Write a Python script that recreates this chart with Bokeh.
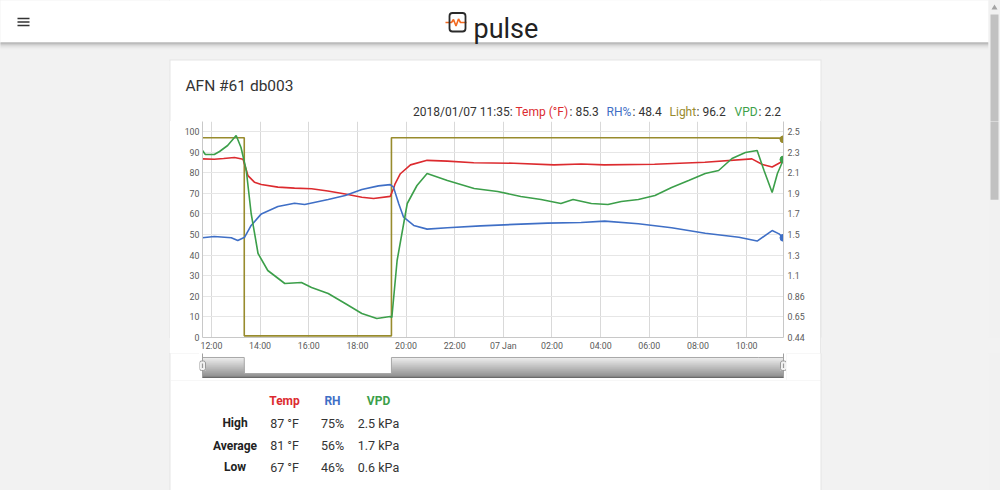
import numpy as np
import pandas as pd
from bokeh.plotting import figure
from bokeh.models import Range1d, LinearAxis, FixedTicker, BoxAnnotation, Label
from bokeh.layouts import column, row
from bokeh.embed import file_html
from bokeh.resources import INLINE

FONT = "Roboto"
BG = "#f2f2f2"
RED = "#dc2b2f"
BLUE = "#3f6fc6"
GREEN = "#3c9f4a"
OLIVE = "#988b2d"

# ---------------- data ----------------
x_start = "2018-01-06 11:38"
x_end = "2018-01-07 11:31"

temp_time = ["2018-01-06 11:38", "2018-01-06 12:07", "2018-01-06 12:30", "2018-01-06 12:57",
             "2018-01-06 13:18", "2018-01-06 13:30", "2018-01-06 13:46", "2018-01-06 14:03",
             "2018-01-06 14:44", "2018-01-06 15:25", "2018-01-06 16:07", "2018-01-06 16:47",
             "2018-01-06 17:30", "2018-01-06 18:11", "2018-01-06 18:40", "2018-01-06 19:21",
             "2018-01-06 19:29", "2018-01-06 19:33", "2018-01-06 19:46", "2018-01-06 20:11",
             "2018-01-06 20:52", "2018-01-06 21:42", "2018-01-06 22:47", "2018-01-07 00:26",
             "2018-01-07 02:05", "2018-01-07 03:12", "2018-01-07 04:09", "2018-01-07 06:13",
             "2018-01-07 08:17", "2018-01-07 10:13", "2018-01-07 10:39", "2018-01-07 11:03",
             "2018-01-07 11:31"]
temp_f = [86.7, 86.5, 86.9, 87.4,
          86.5, 78.6, 75.4, 74.3,
          73.0, 72.5, 72.2, 71.1,
          69.7, 68.1, 67.5, 68.5,
          72.2, 74.6, 79.5, 83.8,
          86.0, 85.6, 84.8, 84.6,
          83.8, 84.2, 83.8, 84.1,
          85.1, 86.7, 84.0, 82.8,
          85.8]

rh_time = ["2018-01-06 11:38", "2018-01-06 12:07", "2018-01-06 12:49", "2018-01-06 13:05",
           "2018-01-06 13:22", "2018-01-06 13:38", "2018-01-06 14:03", "2018-01-06 14:44",
           "2018-01-06 15:25", "2018-01-06 15:50", "2018-01-06 16:48", "2018-01-06 17:30",
           "2018-01-06 18:11", "2018-01-06 18:52", "2018-01-06 19:21", "2018-01-06 19:29",
           "2018-01-06 19:42", "2018-01-06 19:54", "2018-01-06 20:19", "2018-01-06 20:52",
           "2018-01-06 21:42", "2018-01-06 23:04", "2018-01-07 00:27", "2018-01-07 01:49",
           "2018-01-07 03:12", "2018-01-07 04:10", "2018-01-07 05:33", "2018-01-07 06:55",
           "2018-01-07 08:18", "2018-01-07 09:41", "2018-01-07 10:26", "2018-01-07 11:03",
           "2018-01-07 11:20", "2018-01-07 11:31"]
rh_pct = [48.4, 49.0, 48.4, 47.1,
          48.7, 54.4, 60.0, 63.6,
          65.2, 64.6, 67.0, 68.9,
          71.8, 73.6, 74.2, 73.0,
          64.9, 58.4, 54.4, 52.6,
          53.3, 54.2, 54.9, 55.5,
          55.8, 56.5, 55.2, 53.3,
          50.6, 48.7, 46.8, 51.9,
          50.3, 48.4]

vpd_time = ["2018-01-06 11:38", "2018-01-06 11:45", "2018-01-06 12:07", "2018-01-06 12:20",
            "2018-01-06 12:40", "2018-01-06 13:01", "2018-01-06 13:13", "2018-01-06 13:26",
            "2018-01-06 13:38", "2018-01-06 13:55", "2018-01-06 14:19", "2018-01-06 15:01",
            "2018-01-06 15:42", "2018-01-06 16:07", "2018-01-06 16:48", "2018-01-06 17:30",
            "2018-01-06 18:11", "2018-01-06 18:48", "2018-01-06 19:21", "2018-01-06 19:25",
            "2018-01-06 19:38", "2018-01-06 20:03", "2018-01-06 20:27", "2018-01-06 20:52",
            "2018-01-06 21:42", "2018-01-06 22:48", "2018-01-06 23:46", "2018-01-07 00:43",
            "2018-01-07 01:33", "2018-01-07 02:22", "2018-01-07 02:52", "2018-01-07 03:37",
            "2018-01-07 04:18", "2018-01-07 04:51", "2018-01-07 05:33", "2018-01-07 06:14",
            "2018-01-07 06:55", "2018-01-07 07:37", "2018-01-07 08:18", "2018-01-07 08:51",
            "2018-01-07 09:24", "2018-01-07 09:57", "2018-01-07 10:26", "2018-01-07 10:43",
            "2018-01-07 11:03", "2018-01-07 11:16", "2018-01-07 11:31"]
vpd_kpa = [2.31, 2.27, 2.27, 2.30,
           2.36, 2.46, 2.34, 2.11,
           1.68, 1.28, 1.11, 0.98,
           0.99, 0.94, 0.88, 0.78,
           0.68, 0.63, 0.65, 0.64,
           1.21, 1.78, 1.96, 2.08,
           2.01, 1.93, 1.90, 1.85,
           1.82, 1.78, 1.82, 1.78,
           1.77, 1.80, 1.82, 1.86,
           1.94, 2.01, 2.08, 2.11,
           2.23, 2.29, 2.31, 2.11,
           1.89, 2.08, 2.22]

light_time = ["2018-01-06 11:38", "2018-01-06 13:21", "2018-01-06 19:24",
              "2018-01-07 10:30", "2018-01-07 11:31"]
light_val = [97.0, 0.8, 97.0, 96.8, 96.2]

x_tick_times = ["2018-01-06 12:00", "2018-01-06 14:00", "2018-01-06 16:00", "2018-01-06 18:00",
                "2018-01-06 20:00", "2018-01-06 22:00", "2018-01-07 00:00", "2018-01-07 02:00",
                "2018-01-07 04:00", "2018-01-07 06:00", "2018-01-07 08:00", "2018-01-07 10:00"]
x_tick_labels = ["12:00", "14:00", "16:00", "18:00", "20:00", "22:00", "07 Jan",
                 "02:00", "04:00", "06:00", "08:00", "10:00"]
left_ticks = [0, 10, 20, 30, 40, 50, 60, 70, 80, 90, 100]
vpd_ticks = [0.44, 0.646, 0.852, 1.058, 1.264, 1.47, 1.676, 1.882, 2.088, 2.294, 2.5]
vpd_tick_labels = ["0.44", "0.65", "0.86", "1.1", "1.3", "1.5", "1.7", "1.9", "2.1", "2.3", "2.5"]

title_text = "AFN #61 db003"
legend_stamp = "2018/01/07 11:35:"
legend_names = ["Temp (°F)", "RH%", "Light", "VPD"]
legend_values = [": 85.3", ": 48.4", ": 96.2", ": 2.2"]
table_cols = ["Temp", "RH", "VPD"]
table_rows = ["High", "Average", "Low"]
table_vals = [["87 °F", "75%", "2.5 kPa"],
              ["81 °F", "56%", "1.7 kPa"],
              ["67 °F", "46%", "0.6 kPa"]]


def ms(s):
    return int(pd.Timestamp(s).value // 10**6)


t_temp = pd.to_datetime(temp_time)
t_rh = pd.to_datetime(rh_time)
t_vpd = pd.to_datetime(vpd_time)
t_light = pd.to_datetime(light_time)

# page background pattern, anchored to the viewport so every element shares it
PATTERN = {"background-color": BG,
           "background-image": ("linear-gradient(to right, #f2f2f2 0px, #f2f2f2 169px, "
                                "#e4e4e4 169px, #e4e4e4 170px, #ffffff 170px, #ffffff 820px, "
                                "#e4e4e4 820px, #e4e4e4 821px, #f2f2f2 821px, #f2f2f2 988px, "
                                "#f1f1f1 988px, #f1f1f1 1000px)"),
           "background-attachment": "fixed"}
COMMON = dict(output_backend="svg", toolbar_location=None, styles=PATTERN)
EXT = 3  # background strips run past their canvas edges so no seam is drawn


def canvas(w, h, x0, y0, fill=BG):
    """A plain drawing surface whose data coordinates equal page pixels."""
    f = figure(width=w, height=h, x_range=Range1d(x0, x0 + w), y_range=Range1d(y0 + h, y0),
               x_axis_location=None, y_axis_location=None, min_border_left=0,
               min_border_right=0, min_border_top=0, min_border_bottom=0,
               background_fill_color=fill, border_fill_color=fill,
               outline_line_color=None, **COMMON)
    f.grid.visible = False
    return f


def rect(f, l, r, t, b, color, **kw):
    f.quad(left=[l], right=[r], top=[t], bottom=[b], fill_color=color,
           line_color=None, **kw)


def text(f, x, y, s, size, color, align="left", bold=False, baseline="middle", **kw):
    f.add_layout(Label(x=x, y=y, text=s, text_font=FONT, text_font_size=f"{size}px",
                       text_color=color, text_align=align, text_baseline=baseline,
                       text_font_style="bold" if bold else "normal", **kw))


def scrollbar(f, y0, y1):
    rect(f, 988, 1000 + EXT, y0 - EXT, y1 + EXT, "#f1f1f1")
    t0, t1 = max(y0 - EXT, 14), min(y1 + EXT, 205)
    if t1 > t0:
        rect(f, 990, 998, t0, t1, "#c1c1c1")


def card_strip(f, y0, y1):
    rect(f, 169, 821, y0 - EXT, y1 + EXT, "#e4e4e4")
    rect(f, 170, 820, y0 - EXT, y1 + EXT, "white")


# ---------------- top strip (header, card top, title, legend) ----------------
TOP_H = 121
top = canvas(1000, TOP_H, 0, 0)
rect(top, -EXT, 988, -EXT, 42, "white")
for i, c in enumerate(["#9c9c9c", "#b2b2b2", "#c6c6c6", "#d5d5d5", "#e0e0e0", "#e8e8e8", "#eeeeee"]):
    rect(top, -EXT, 988, 42 + i, 43 + i, c)
for yy in (17.2, 20.7, 24.2):
    rect(top, 17, 29, yy, yy + 1.6, "#333333")
top.line([445, 451, 453, 455.5, 458, 460, 466], [22, 22, 19, 25.5, 18.5, 22, 22],
         line_color="#f26a21", line_width=1.6)
top.add_layout(BoxAnnotation(left=449, right=465, top=12.5, bottom=31, fill_color=None,
                             line_color="#2a2a2a", line_width=1.8, line_alpha=1.0,
                             border_radius=3))
text(top, 473, 28.5, "pulse", 27, "#222222", baseline="alphabetic")
scrollbar(top, 0, TOP_H)
top.patch([991, 994, 997], [9, 4, 9], fill_color="#a3a3a3", line_color=None)
rect(top, 169, 821, 59, TOP_H + EXT, "#e4e4e4")
rect(top, 170, 820, 60, TOP_H + EXT, "white")
text(top, 185, 85, title_text, 15.5, "#333333")
text(top, 412.5, 111.5, legend_stamp, 12, "#333333")
leg_name_x = [515, 606, 669, 734]
leg_val_x = [569, 632, 696, 758]
for nm, vl, nx, vx, c in zip(legend_names, legend_values, leg_name_x, leg_val_x,
                             [RED, BLUE, OLIVE, GREEN]):
    text(top, nx, 111.5, nm, 12, c)
    text(top, vx, 111.5, vl, 12, "#333333")

# ---------------- main chart (page x 170..820, y 121..353; frame x 202..783, y 121..337) ----
MAIN_H = 353 - TOP_H
PX_PER_UNIT = 2.06
Y_TOP = (337 - TOP_H) / PX_PER_UNIT
vpd_per_unit = (vpd_ticks[-1] - vpd_ticks[0]) / 100.0
xr = Range1d(pd.Timestamp(x_start), pd.Timestamp(x_end))
main = figure(width=650, height=MAIN_H, x_axis_type="datetime", x_range=xr,
              y_range=Range1d(0, Y_TOP), min_border_left=32, min_border_right=37,
              min_border_top=0, min_border_bottom=16, background_fill_color="white",
              border_fill_color="white", outline_line_color=None, **COMMON)
main.extra_y_ranges = {"vpd": Range1d(vpd_ticks[0], vpd_ticks[0] + Y_TOP * vpd_per_unit)}

x_ticks_ms = [ms(s) for s in x_tick_times]
xax = main.xaxis[0]
xax.ticker = FixedTicker(ticks=x_ticks_ms)
xax.major_label_overrides = dict(zip(x_ticks_ms, x_tick_labels))
yax = main.yaxis[0]
yax.ticker = FixedTicker(ticks=left_ticks)
yax.major_label_overrides = {v: str(v) for v in left_ticks}
rax = LinearAxis(y_range_name="vpd", ticker=FixedTicker(ticks=vpd_ticks),
                 major_label_overrides=dict(zip(vpd_ticks, vpd_tick_labels)))
main.add_layout(rax, "right")
for ax in (xax, yax, rax):
    ax.axis_line_color = "#c8c8c8"
    ax.major_tick_line_color = None
    ax.minor_tick_line_color = None
    ax.major_tick_out = 0
    ax.major_tick_in = 0
    ax.major_label_text_font = FONT
    ax.major_label_text_font_size = "8.8px"
    ax.major_label_text_color = "#5a5a5a"
xax.major_label_standoff = 3
yax.major_label_standoff = 3
rax.major_label_standoff = 4
main.xgrid.ticker = FixedTicker(ticks=x_ticks_ms)
main.xgrid.grid_line_color = "#d9d9d9"
main.ygrid.ticker = FixedTicker(ticks=left_ticks)
main.ygrid.grid_line_color = "#e6e6e6"

LW = 1.6
main.step(t_light, light_val, mode="after", line_color=OLIVE, line_width=LW)
main.line(t_temp, temp_f, line_color=RED, line_width=LW)
main.line(t_rh, rh_pct, line_color=BLUE, line_width=LW)
main.line(t_vpd, vpd_kpa, line_color=GREEN, line_width=LW, y_range_name="vpd")
main.scatter([t_light[-1]], [light_val[-1]], size=7, color=OLIVE)
main.scatter([t_rh[-1]], [rh_pct[-1]], size=7, color=BLUE)
main.scatter([t_vpd[-1]], [vpd_kpa[-1]], size=7, color=GREEN, y_range_name="vpd")

left1 = canvas(170, MAIN_H, 0, TOP_H)
rect(left1, 169, 170 + EXT, TOP_H - EXT, 353 + EXT, "#e4e4e4")
right1 = canvas(180, MAIN_H, 820, TOP_H)
rect(right1, 820 - EXT, 821, TOP_H - EXT, 353 + EXT, "#e4e4e4")
scrollbar(right1, TOP_H, 353)

# ---------------- navigator (page x 199..786, y 353..380) ----------------
tpp = (ms(x_end) - ms(x_start)) / 581.0          # ms per pixel of the main frame
NAV_PER_PX = 6.0095                                # light units per navigator pixel


def nav_val(py):
    return 103.0 - (py - 356) * NAV_PER_PX


NAV_L, NAV_R, NAV_T, NAV_B = 199, 786, 353, 380
nav = figure(width=NAV_R - NAV_L, height=NAV_B - NAV_T,
             x_range=Range1d(ms(x_start) - 3 * tpp, ms(x_end) + 3 * tpp),
             y_range=Range1d(nav_val(NAV_B), nav_val(NAV_T)), x_axis_location=None,
             y_axis_location=None, min_border_left=0, min_border_right=0, min_border_top=0,
             min_border_bottom=0, background_fill_color="white", border_fill_color="white",
             outline_line_color=None, **COMMON)
nav.grid.visible = False
nav.extra_x_ranges = {"px": Range1d(NAV_L, NAV_R)}
nav.extra_y_ranges = {"py": Range1d(NAV_B, NAV_T)}

lt = t_light.values
lv = np.array(light_val)
sx = np.repeat(lt, 2)[1:]
sy = np.repeat(lv, 2)[:-1]
c0 = np.array([236, 236, 236])
c1 = np.array([136, 136, 136])
for k in range(21):
    fr = k / 20.0
    c = tuple(int(round(v)) for v in (c0 * (1 - fr) + c1 * fr))
    nav.varea(x=sx, y1=nav_val(377), y2=np.minimum(sy, nav_val(357 + k)),
              fill_color="#%02x%02x%02x" % c)
nav.line(sx, sy, line_color="#a8a8a8", line_width=1)
PXR = dict(x_range_name="px", y_range_name="py")
rect(nav, NAV_L - EXT, NAV_R + EXT, NAV_T - EXT, NAV_B + EXT, "white", level="underlay", **PXR)
rect(nav, 202, 783, 376.2, 377.6, "#6a6a6a", **PXR)
for hx in (202, 783):
    rect(nav, hx - 0.5, hx + 0.5, 353 - EXT, 377, "#a0a0a0", **PXR)
    rect(nav, hx - 3, hx + 3, 360.5, 370, "#f2f2f2", **PXR)
    nav.add_layout(BoxAnnotation(left=hx - 3, right=hx + 3, top=360.5, bottom=370,
                                 fill_color=None, line_color="#999999", line_width=1,
                                 line_alpha=1.0, border_radius=2, **PXR))
    rect(nav, hx - 0.6, hx + 0.6, 363, 367.5, "#999999", **PXR)

left2 = canvas(NAV_L, NAV_B - NAV_T, 0, NAV_T)
card_strip(left2, NAV_T, NAV_B)
right2 = canvas(1000 - NAV_R, NAV_B - NAV_T, NAV_R, NAV_T)
card_strip(right2, NAV_T, NAV_B)
scrollbar(right2, NAV_T, NAV_B)

# ---------------- bottom strip (table) ----------------
bottom = canvas(1000, 490 - NAV_B, 0, NAV_B)
card_strip(bottom, NAV_B, 490)
scrollbar(bottom, NAV_B, 490)
col_x = [284, 332, 378]
row_y = [422.7, 445, 466.7]
for cx, nm, c in zip(col_x, table_cols, [RED, BLUE, GREEN]):
    text(bottom, cx, 400.7, nm, 12, c, align="center", bold=True)
for ry, rn, vals in zip(row_y, table_rows, table_vals):
    text(bottom, 234.5, ry, rn, 12, "#222222", align="center", bold=True)
    for cx, v in zip(col_x, vals):
        text(bottom, cx, ry, v, 12.5, "#333333", align="center")

page = column(top,
              row(left1, main, right1, spacing=0, styles=PATTERN),
              row(left2, nav, right2, spacing=0, styles=PATTERN),
              bottom, spacing=0, styles=PATTERN)
open("out.html", "w").write(file_html(page, INLINE))
